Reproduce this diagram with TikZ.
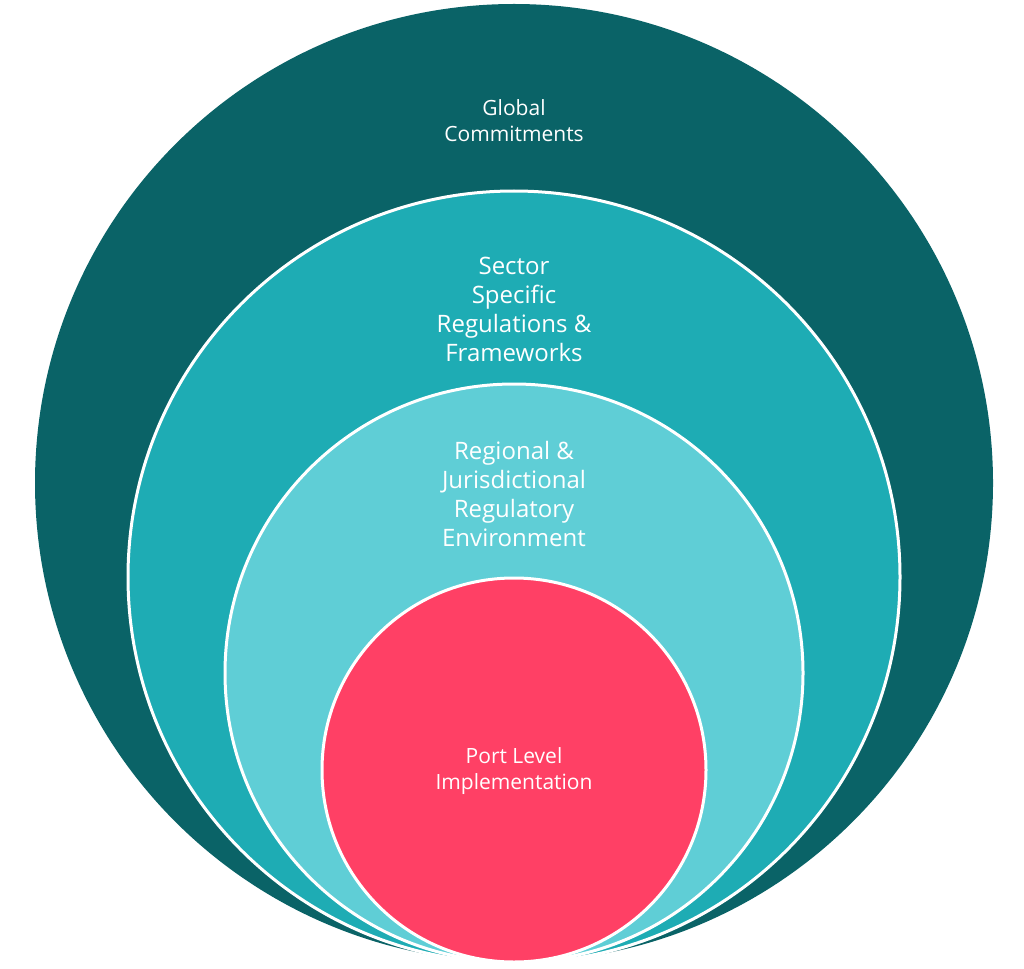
\documentclass[tikz,border=0pt]{standalone}
\usepackage{fontspec}
\setmainfont{Open Sans}
\definecolor{cOuter}{HTML}{0A6367}
\definecolor{cSecond}{HTML}{1EACB4}
\definecolor{cThird}{HTML}{5FCED6}
\definecolor{cRed}{HTML}{FF4065}
\begin{document}
\begin{tikzpicture}[x=1pt,y=-1pt,
  ring/.style={draw=white,line width=3pt},
  lbl/.style={text=white,align=center,inner sep=0pt}]
\useasboundingbox (0,0) rectangle (1024,968);
\fill[cOuter] (514,483) circle[radius=479];
\path[ring,fill=cSecond] (514,577) circle[radius=386];
\path[ring,fill=cThird] (514,673) circle[radius=289];
\path[ring,fill=cRed] (514,770) circle[radius=192];
\node[lbl,font=\fontsize{21}{26}\selectfont] (g) at (514,121) {Global\\Commitments};
\node[lbl,font=\fontsize{24}{29}\selectfont] (s) at (514,309) {Sector\\Specific\\Regulations \&\\Frameworks};
\node[lbl,font=\fontsize{24}{29}\selectfont] (r) at (514,494) {Regional \&\\Jurisdictional\\Regulatory\\Environment};
\node[lbl,font=\fontsize{21}{26}\selectfont] (p) at (514,771) {Port Level\\Implementation};
\end{tikzpicture}
\end{document}
